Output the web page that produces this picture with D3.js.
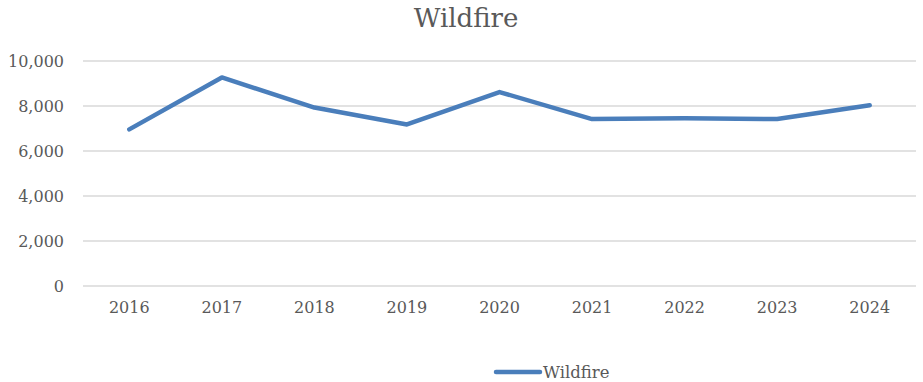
<!DOCTYPE html>
<html>
<head>
<meta charset="utf-8">
<script src="https://cdn.jsdelivr.net/npm/d3@7"></script>
<style>
  body { margin: 0; background: #fff; }
  svg text { font-family: "DejaVu Serif", "Liberation Serif", serif; fill: #595959; }
</style>
</head>
<body>
<div id="chart"></div>
<script>
// data
const years = ['2016', '2017', '2018', '2019', '2020', '2021', '2022', '2023', '2024'];
const wildfire = [6960, 9270, 7930, 7180, 8620, 7420, 7460, 7420, 8030];
const yTicks = [0, 2000, 4000, 6000, 8000, 10000];
const seriesName = 'Wildfire';

const W = 923, H = 382;
const margin = { top: 61, right: 7, bottom: 96, left: 83 };
const width = W - margin.left - margin.right,
    height = H - margin.top - margin.bottom;

const svg = d3.select('#chart').append('svg')
    .attr('width', W)
    .attr('height', H);

// title
svg.append('text')
    .attr('x', 466)
    .attr('y', 27)
    .attr('text-anchor', 'middle')
    .style('font-size', '26px')
    .text(seriesName);

const g = svg.append('g')
    .attr('transform', 'translate(' + margin.left + ',' + margin.top + ')');

const x = d3.scaleBand().domain(years).range([0, width]);
const y = d3.scaleLinear().domain([0, 10000]).range([height, 0]);

// gridlines
g.selectAll('.grid')
    .data(yTicks)
    .enter().append('line')
    .attr('x1', 0)
    .attr('x2', width)
    .attr('y1', d => y(d))
    .attr('y2', d => y(d))
    .attr('stroke', '#d9d9d9')
    .attr('stroke-width', 1.5);

// y axis labels
const yAxis = g.append('g')
    .call(d3.axisLeft(y).tickValues(yTicks).tickSize(0).tickPadding(19).tickFormat(d3.format(',')));
yAxis.select('.domain').remove();
yAxis.selectAll('text').style('font-size', '16px').attr('fill', '#595959');

// x axis labels
const xAxis = g.append('g')
    .attr('transform', 'translate(0,' + height + ')')
    .call(d3.axisBottom(x).tickSize(0).tickPadding(16));
xAxis.select('.domain').remove();
xAxis.selectAll('text').style('font-size', '16px').attr('fill', '#595959');

// the line
const line = d3.line()
    .x((d, i) => x(years[i]) + x.bandwidth() / 2)
    .y(d => y(d));

g.append('path')
    .datum(wildfire)
    .attr('fill', 'none')
    .attr('stroke', '#4a7ebb')
    .attr('stroke-width', 4.5)
    .attr('stroke-linejoin', 'round')
    .attr('stroke-linecap', 'round')
    .attr('d', line);

// legend
const legend = svg.append('g').attr('transform', 'translate(496,372)');
legend.append('line')
    .attr('x1', 0).attr('x2', 44)
    .attr('stroke', '#4a7ebb')
    .attr('stroke-width', 4.5)
    .attr('stroke-linecap', 'round');
legend.append('text')
    .attr('x', 47)
    .attr('y', 6)
    .style('font-size', '16.5px')
    .text(seriesName);
</script>
</body>
</html>
